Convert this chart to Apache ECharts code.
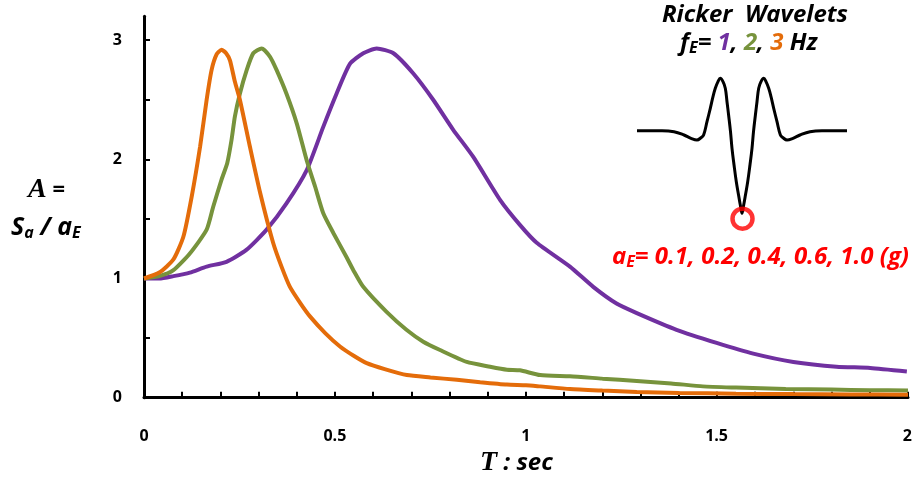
<!DOCTYPE html>
<html>
<head>
<meta charset="utf-8">
<script src="https://cdn.jsdelivr.net/npm/echarts@6/dist/echarts.min.js"></script>
<style>
html,body{margin:0;padding:0;background:#fff;}
#chart{width:915px;height:484px;}
</style>
</head>
<body>
<div id="chart"></div>
<script>
// ---- Data ----
// f_E = 1 Hz (purple)
const tPurple = [0,0.04,0.077,0.12,0.164,0.216,0.268,0.321,0.373,0.426,0.469,0.504,0.539,0.574,0.609,0.653,0.705,0.757,0.809,0.862,0.932,0.984,1.028,1.115,1.176,1.237,1.29,1.394,1.499,1.595,1.70,1.813,1.901,1.997];
const aPurple = [1.0,1.0,1.02,1.05,1.10,1.14,1.24,1.41,1.63,1.91,2.27,2.55,2.80,2.89,2.93,2.89,2.72,2.50,2.25,2.02,1.66,1.45,1.30,1.10,0.93,0.79,0.71,0.57,0.46,0.37,0.30,0.26,0.25,0.22];
// f_E = 2 Hz (green)
const tGreen = [0,0.04,0.077,0.12,0.164,0.181,0.203,0.218,0.229,0.238,0.251,0.269,0.286,0.308,0.33,0.347,0.373,0.40,0.426,0.448,0.469,0.496,0.53,0.548,0.574,0.635,0.687,0.731,0.775,0.845,0.906,0.95,0.984,1.037,1.115,1.2,1.29,1.38,1.463,1.55,1.68,1.8,1.9,2.0];
const aGreen = [1.0,1.02,1.07,1.21,1.41,1.60,1.83,1.97,2.16,2.36,2.55,2.75,2.89,2.93,2.86,2.75,2.55,2.30,1.99,1.77,1.55,1.38,1.18,1.07,0.93,0.72,0.57,0.47,0.40,0.30,0.26,0.235,0.23,0.19,0.18,0.16,0.14,0.12,0.095,0.085,0.073,0.068,0.063,0.06];
// f_E = 3 Hz (orange)
const tOrange = [0,0.04,0.077,0.103,0.125,0.147,0.164,0.177,0.19,0.203,0.215,0.225,0.238,0.251,0.277,0.304,0.338,0.36,0.382,0.41,0.435,0.475,0.513,0.55,0.583,0.63,0.688,0.75,0.819,0.88,0.95,1.0,1.037,1.115,1.2,1.29,1.4,1.55,1.7,1.85,2.0];
const aOrange = [1.0,1.05,1.16,1.35,1.69,2.11,2.50,2.75,2.88,2.92,2.89,2.83,2.65,2.50,2.11,1.72,1.30,1.10,0.93,0.79,0.68,0.54,0.43,0.35,0.29,0.24,0.19,0.17,0.15,0.13,0.11,0.105,0.095,0.073,0.06,0.048,0.04,0.034,0.03,0.027,0.025];
// Inset Ricker wavelet shape (relative units)
const waveU = [-105,-80,-68,-58,-51,-45,-41,-38.4,-35,-31.7,-29,-26.7,-24,-21.7,-19,-16.7,-15,-13.4,-11.5,-10,-8,-5.7,-3.5,-1.7,0,1.7,3.5,5.7,8,10,11.5,13.4,15,16.7,19,21.7,24,26.7,29,31.7,35,38.4,41,45,51,58,68,80,105];
const waveV = [0,0,-1,-4.3,-7.6,-9.3,-7,-4.3,9,22.4,34,42.4,49,52.4,49,42.4,29,15.7,-1,-17.6,-34,-51,-64,-74.3,-82.6,-74.3,-64,-51,-34,-17.6,-1,15.7,29,42.4,49,52.4,49,42.4,34,22.4,9,-4.3,-7,-9.3,-7.6,-4.3,-1,0,0];
const markerU = [0.5];
const markerV = [-88];
// Axis ticks / labels
const xTicks = [0,0.1,0.2,0.3,0.4,0.5,0.6,0.7,0.8,0.9,1.0,1.1,1.2,1.3,1.4,1.5,1.6,1.7,1.8,1.9,2.0];
const xLabels = [0,0.5,1,1.5,2];
const yTicks = [0,0.5,1,1.5,2,2.5,3];
const yLabels = [0,1,2,3];

const zip = (a,b) => a.map((v,i)=>[v,b[i]]);
const SANS = '"Open Sans", Lato, sans-serif';
const SERIF = '"Liberation Serif", "DejaVu Serif", serif';
const lblStyle = {color:'#000', fontFamily:SANS, fontWeight:'bold', fontSize:16};

const chart = echarts.init(document.getElementById('chart'), null, {renderer:'canvas'});
chart.setOption({
  animation:false,
  backgroundColor:'#fff',
  grid:[
    {left:144, right:7, top:16.3, bottom:86.3},
    {left:637, top:70.7, width:210, height:160},
    {left:144, right:7, top:419, height:1}
  ],
  xAxis:[
    {type:'value', min:0, max:2, gridIndex:0, position:'bottom',
     axisLine:{show:true, onZero:false, lineStyle:{color:'#000', width:3}},
     axisTick:{show:true, inside:true, length:6, lineStyle:{color:'#000', width:2}, customValues:xTicks},
     axisLabel:{show:false},
     splitLine:{show:false}},
    {type:'value', min:-105, max:105, gridIndex:1, show:false},
    {type:'value', min:0, max:2, gridIndex:2, position:'bottom',
     axisLine:{show:false, onZero:false}, axisTick:{show:false},
     axisLabel:Object.assign({margin:8, customValues:xLabels, formatter:v=>String(v)}, lblStyle),
     splitLine:{show:false}}
  ],
  yAxis:[
    {type:'value', min:0, max:3.2, gridIndex:0,
     axisLine:{show:true, onZero:false, lineStyle:{color:'#000', width:3}},
     axisTick:{show:true, inside:true, length:6, lineStyle:{color:'#000', width:2}, customValues:yTicks},
     axisLabel:Object.assign({margin:22, customValues:yLabels, formatter:v=>String(v)}, lblStyle),
     splitLine:{show:false}},
    {type:'value', min:-100, max:60, gridIndex:1, show:false},
    {type:'value', min:0, max:1, gridIndex:2, show:false}
  ],
  series:[
    {type:'line', data:zip(tPurple,aPurple), showSymbol:false, smooth:0.2, lineStyle:{color:'#7030A0', width:4}, z:2},
    {type:'line', data:zip(tGreen,aGreen), showSymbol:false, smooth:0.2, lineStyle:{color:'#77933C', width:4}, z:3},
    {type:'line', data:zip(tOrange,aOrange), showSymbol:false, smooth:0.2, lineStyle:{color:'#E46C0A', width:4}, z:4},
    {type:'line', xAxisIndex:1, yAxisIndex:1, data:zip(waveU,waveV), showSymbol:false, smooth:0.4, lineStyle:{color:'#000', width:3}, z:5},
    {type:'scatter', xAxisIndex:1, yAxisIndex:1, data:zip(markerU,markerV), symbol:'circle', symbolSize:20,
     itemStyle:{color:'rgba(0,0,0,0)', borderColor:'#FF0000', borderWidth:4.5}, z:6}
  ],
  graphic:[
    {type:'text', left:662, top:3, style:{text:'Ricker  Wavelets', fill:'#000', font:'italic bold 24px '+SANS}},
    {type:'text', left:680, top:31, style:{
      text:'{f|f}{sub|E}{b|= }{p|1}{b|, }{g|2}{b|, }{o|3}{b| Hz}',
      rich:{
        f:{font:'italic bold 24px '+SANS, fill:'#000'},
        sub:{font:'italic bold 16px '+SANS, fill:'#000', padding:[11,0,0,0]},
        b:{font:'italic bold 24px '+SANS, fill:'#000'},
        p:{font:'italic bold 24px '+SANS, fill:'#7030A0'},
        g:{font:'italic bold 24px '+SANS, fill:'#77933C'},
        o:{font:'italic bold 24px '+SANS, fill:'#E46C0A'}
      }}},
    {type:'text', right:6, top:245, style:{
      text:'{a|a}{sub|E}{a|= 0.1, 0.2, 0.4, 0.6, 1.0 (g)}',
      rich:{
        a:{font:'italic bold 24px '+SANS, fill:'#FF0000'},
        sub:{font:'italic bold 16px '+SANS, fill:'#FF0000', padding:[11,0,0,0]}
      }}},
    {type:'text', left:28, top:176, style:{
      text:'{A|A}{e| =}',
      rich:{
        A:{font:'italic bold 28px '+SERIF, fill:'#000'},
        e:{font:'bold 22px '+SANS, fill:'#000'}
      }}},
    {type:'text', left:11, top:215, style:{
      text:'{s|S}{sub|a}{s| / a}{sub|E}',
      rich:{
        s:{font:'italic bold 25px '+SANS, fill:'#000'},
        sub:{font:'italic bold 16px '+SANS, fill:'#000', padding:[11,0,0,0]}
      }}},
    {type:'text', left:480, top:449, style:{
      text:'{T|T}{s| : sec}',
      rich:{
        T:{font:'italic bold 28px '+SERIF, fill:'#000'},
        s:{font:'italic bold 24px '+SANS, fill:'#000'}
      }}}
  ]
});
</script>
</body>
</html>
